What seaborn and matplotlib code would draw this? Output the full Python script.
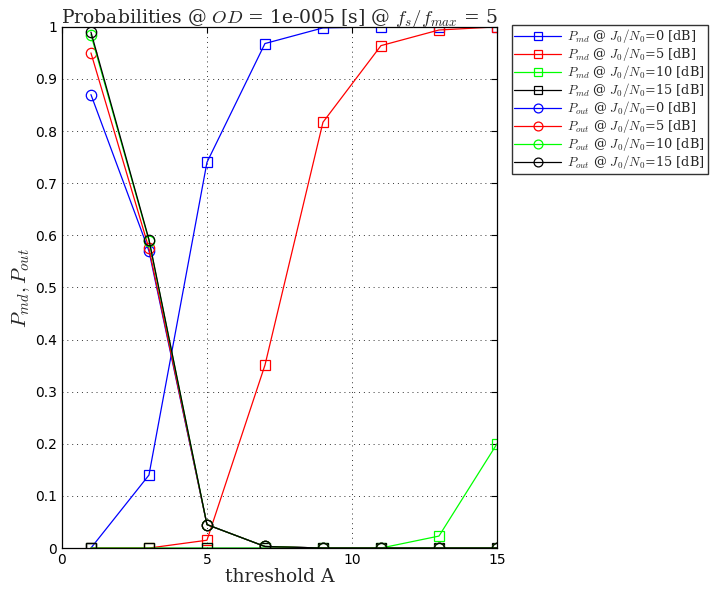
import matplotlib
matplotlib.use('Agg')
import matplotlib.pyplot as plt
import seaborn as sns
import pandas as pd

# data
threshold = [1, 3, 5, 7, 9, 11, 13, 15]
jn_levels = [0, 5, 10, 15]
colors = ['#0000ff', '#ff0000', '#00ff00', '#000000']

pmd = {
    0: [0.0, 0.14, 0.74, 0.968, 0.998, 1.0, 1.0, 1.0],
    5: [0.0, 0.0, 0.015, 0.351, 0.817, 0.964, 0.994, 1.0],
    10: [0.0, 0.0, 0.0, 0.0, 0.0, 0.0, 0.023, 0.2],
    15: [0.0, 0.0, 0.0, 0.0, 0.0, 0.0, 0.0, 0.0],
}
pout = {
    0: [0.87, 0.57, 0.045, 0.003, 0.0, 0.0, 0.0, 0.0],
    5: [0.95, 0.575, 0.045, 0.003, 0.0, 0.0, 0.0, 0.0],
    10: [0.985, 0.59, 0.045, 0.003, 0.0, 0.0, 0.0, 0.0],
    15: [0.99, 0.592, 0.045, 0.003, 0.0, 0.0, 0.0, 0.0],
}

sns.set_style('white')
plt.rcParams['font.family'] = ['DejaVu Sans']
plt.rcParams['mathtext.fontset'] = 'cm'

fig = plt.figure(figsize=(7.12, 5.97), dpi=100)
ax = fig.add_axes([0.087, 0.082, 0.611, 0.873])

for j, c in zip(jn_levels, colors):
    df = pd.DataFrame({'x': threshold, 'y': pmd[j]})
    sns.lineplot(data=df, x='x', y='y', ax=ax, color=c, lw=0.9, marker='s',
                 markersize=6.5, markerfacecolor='none', markeredgecolor=c,
                 markeredgewidth=0.9,
                 label=r'$P_{md}$ @ $J_0/N_0$=%d [dB]' % j)
for j, c in zip(jn_levels, colors):
    df = pd.DataFrame({'x': threshold, 'y': pout[j]})
    sns.lineplot(data=df, x='x', y='y', ax=ax, color=c, lw=0.9, marker='o',
                 markersize=7.5, markerfacecolor='none', markeredgecolor=c,
                 markeredgewidth=0.9,
                 label=r'$P_{out}$ @ $J_0/N_0$=%d [dB]' % j)

ax.set_xlim(0, 15)
ax.set_ylim(0, 1)
ax.set_xticks([0, 5, 10, 15])
ax.set_xticklabels(['0', '5', '10', '15'])
ax.set_yticks([i / 10 for i in range(11)])
ax.set_yticklabels(['0'] + ['0.%d' % i for i in range(1, 10)] + ['1'])
ax.tick_params(direction='in', length=4, labelsize=10, colors='black', top=True, right=True)
ax.grid(True, linestyle=(0, (1, 4)), color='#333333', lw=0.7)
for s in ax.spines.values():
    s.set_color('black')
    s.set_linewidth(0.9)

ax.set_title(r'Probabilities @ $OD$ = 1e-005 [s] @ $f_s/f_{max}$ = 5',
             fontsize=13.5, family='serif', pad=3)
ax.set_xlabel('threshold A', fontsize=13.5, family='serif', labelpad=1)
ax.set_ylabel(r'$P_{md}, P_{out}$', fontsize=15, labelpad=2)

leg = ax.legend(loc='upper left', bbox_to_anchor=(1.034, 1.004),
                prop={'family': 'serif', 'size': 9.3}, frameon=True, fancybox=False,
                borderpad=0.2, labelspacing=0.0, handlelength=3.6, handletextpad=0.5,
                borderaxespad=0, markerscale=0.85)
leg.get_frame().set_edgecolor('black')
leg.get_frame().set_linewidth(1.0)

fig.savefig('out.png', dpi=100)
